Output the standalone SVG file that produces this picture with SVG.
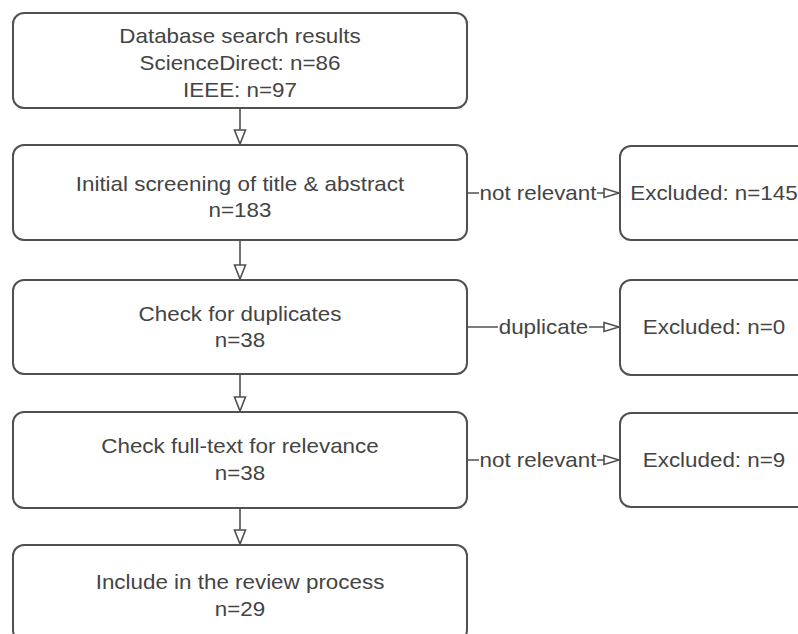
<svg xmlns="http://www.w3.org/2000/svg" width="798" height="634" viewBox="0 0 798 634">
<defs>
<style>
.box{fill:#fff;stroke:#505050;stroke-width:2}
.t{font-family:"Liberation Sans",Arial,sans-serif;font-size:20px;fill:#444;text-anchor:middle}
.e{stroke:#505050;stroke-width:1.6;fill:none}
</style>
<marker id="av" markerWidth="16" markerHeight="14" refX="15" refY="7" orient="auto" markerUnits="userSpaceOnUse">
<path d="M1,1.5 L15,7 L1,12.5 Z" fill="#fff" stroke="#505050" stroke-width="1.6"/>
</marker>
<marker id="ah" markerWidth="17" markerHeight="12" refX="16" refY="6" orient="auto" markerUnits="userSpaceOnUse">
<path d="M1,1.5 L16,6 L1,10.5 Z" fill="#fff" stroke="#505050" stroke-width="1.6"/>
</marker>
</defs>
<rect width="798" height="634" fill="#fff"/>
<g id="n1"><rect class="box" x="13" y="13" width="454" height="95" rx="11"/>
<text class="t" transform="translate(240 43) scale(1.12 1)">Database search results</text>
<text class="t" transform="translate(240 70) scale(1.12 1)">ScienceDirect: n=86</text>
<text class="t" transform="translate(240 97) scale(1.12 1)">IEEE: n=97</text></g>
<g id="n2"><rect class="box" x="13" y="145" width="454" height="95" rx="11"/>
<text class="t" transform="translate(240 191) scale(1.12 1)">Initial screening of title &amp; abstract</text>
<text class="t" transform="translate(240 217) scale(1.12 1)">n=183</text></g>
<g id="n3"><rect class="box" x="13" y="280" width="454" height="94" rx="11"/>
<text class="t" transform="translate(240 321) scale(1.12 1)">Check for duplicates</text>
<text class="t" transform="translate(240 347) scale(1.12 1)">n=38</text></g>
<g id="n4"><rect class="box" x="13" y="412" width="454" height="96" rx="11"/>
<text class="t" transform="translate(240 453) scale(1.12 1)">Check full-text for relevance</text>
<text class="t" transform="translate(240 480) scale(1.12 1)">n=38</text></g>
<g id="n5"><rect class="box" x="13" y="545" width="454" height="96" rx="11"/>
<text class="t" transform="translate(240 589) scale(1.12 1)">Include in the review process</text>
<text class="t" transform="translate(240 616) scale(1.12 1)">n=29</text></g>
<g id="x1"><rect class="box" x="620" y="146" width="188" height="94" rx="11"/>
<text class="t" transform="translate(714 200) scale(1.12 1)">Excluded: n=145</text></g>
<g id="x2"><rect class="box" x="620" y="280" width="188" height="95" rx="11"/>
<text class="t" transform="translate(714 334) scale(1.12 1)">Excluded: n=0</text></g>
<g id="x3"><rect class="box" x="620" y="413" width="188" height="94" rx="11"/>
<text class="t" transform="translate(714 467) scale(1.12 1)">Excluded: n=9</text></g>
<g id="edges">
<line class="e" x1="240" y1="108" x2="240" y2="144" marker-end="url(#av)"/>
<line class="e" x1="240" y1="240" x2="240" y2="279" marker-end="url(#av)"/>
<line class="e" x1="240" y1="374" x2="240" y2="411" marker-end="url(#av)"/>
<line class="e" x1="240" y1="508" x2="240" y2="544" marker-end="url(#av)"/>
<line class="e" x1="467" y1="193" x2="619" y2="193" marker-end="url(#ah)"/>
<line class="e" x1="467" y1="327" x2="619" y2="327" marker-end="url(#ah)"/>
<line class="e" x1="467" y1="460" x2="619" y2="460" marker-end="url(#ah)"/>
<rect x="479" y="182" width="118" height="24" fill="#fff"/>
<text class="t" transform="translate(538 200) scale(1.12 1)">not relevant</text>
<rect x="498" y="316" width="91" height="24" fill="#fff"/>
<text class="t" transform="translate(543.5 334) scale(1.12 1)">duplicate</text>
<rect x="479" y="449" width="118" height="24" fill="#fff"/>
<text class="t" transform="translate(538 467) scale(1.12 1)">not relevant</text>
</g>
</svg>
